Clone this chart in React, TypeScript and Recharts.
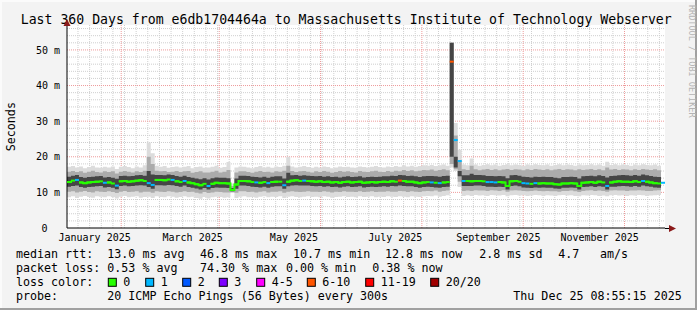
import React from 'react';
import { ComposedChart, Area, Line, Scatter, XAxis, YAxis, ReferenceLine, CartesianGrid } from 'recharts';

// one sample every 2.4 days, 150 samples over the 360 day window
const STEP_DAYS = 2.4;

// median rtt in ms
const median = [
  12.9, 13.3, 13.5, 12.8, 12.6, 12.8, 12.9, 13.0, 13.1, 12.7,
  12.8, 12.5, 11.9, 13.1, 13.2, 13.0, 13.1, 13.3, 13.4, 13.2,
  12.6, 12.1, 13.5, 13.5, 13.4, 13.6, 13.5, 13.1, 12.9, 13.2,
  12.8, 12.6, 12.3, 12.0, 12.4, 11.8, 12.4, 12.7, 12.6, 12.6,
  12.5, 10.7, 12.2, 13.2, 13.2, 13.1, 12.9, 12.8, 12.7, 12.9,
  12.6, 12.9, 13.0, 13.0, 12.0, 13.0, 13.3, 13.4, 13.2, 13.3,
  13.2, 13.1, 13.0, 13.1, 12.9, 13.0, 12.8, 12.9, 12.7, 12.9,
  13.0, 12.8, 12.9, 13.0, 12.7, 12.8, 12.9, 12.8, 12.9, 13.0,
  12.9, 13.1, 13.0, 13.3, 13.2, 13.0, 13.0, 12.8, 12.6, 12.8,
  12.9, 12.8, 12.7, 12.6, 12.8, 12.9, 46.7, 24.7, 18.8, 13.2,
  13.2, 13.1, 13.2, 13.2, 13.1, 12.9, 12.9, 12.8, 12.9, 12.8,
  11.8, 13.1, 13.2, 13.0, 12.6, 12.5, 12.4, 12.6, 12.5, 12.6,
  12.5, 12.5, 12.3, 12.2, 12.5, 12.5, 12.6, 12.5, 11.8, 12.7,
  12.8, 12.9, 12.7, 13.0, 12.8, 11.8, 12.8, 13.0, 13.1, 13.0,
  13.0, 12.9, 13.1, 12.9, 13.2, 13.0, 12.8, 12.6, 12.5, 12.7,
];

// lost pings (of 20) per sample
const lostPings = [
  0, 0, 1, 0, 0, 0, 0, 0, 0, 1,
  0, 0, 1, 0, 0, 0, 0, 0, 0, 0,
  1, 1, 0, 0, 0, 0, 1, 0, 0, 1,
  0, 0, 0, 0, 0, 1, 0, 0, 0, 0,
  0, 0, 0, 0, 0, 0, 0, 1, 0, 0,
  1, 0, 0, 0, 1, 0, 0, 0, 0, 1,
  0, 0, 0, 0, 0, 0, 0, 0, 0, 0,
  0, 0, 0, 0, 0, 0, 0, 0, 0, 0,
  0, 0, 0, 8, 0, 0, 0, 0, 0, 0,
  0, 1, 0, 1, 0, 0, 8, 1, 1, 1,
  0, 0, 0, 0, 0, 1, 1, 1, 0, 0,
  0, 0, 0, 0, 1, 1, 0, 1, 0, 0,
  0, 0, 0, 0, 0, 0, 0, 0, 0, 0,
  0, 0, 0, 0, 0, 1, 0, 0, 0, 0,
  0, 0, 0, 0, 1, 0, 0, 0, 0, 1,
];

// smoke: outer band (min / max ping)
const lo1 = [
  8.6, 8.9, 8.4, 8.8, 9.0, 8.7, 8.5, 8.9, 8.8, 8.6,
  8.9, 8.7, 8.3, 8.8, 9.0, 8.6, 8.8, 8.9, 8.5, 8.7,
  8.8, 8.4, 8.9, 8.7, 8.6, 8.9, 8.8, 8.5, 8.7, 8.9,
  8.6, 8.8, 8.4, 8.2, 8.7, 8.3, 8.6, 8.8, 8.7, 8.5,
  8.6, 9.8, 8.4, 8.8, 8.9, 8.6, 8.7, 8.5, 8.8, 8.9,
  8.6, 8.8, 8.7, 8.9, 8.4, 8.8, 8.9, 8.7, 8.6, 8.8,
  8.9, 8.7, 8.8, 8.6, 8.9, 8.8, 8.5, 8.7, 8.8, 8.9,
  8.7, 8.8, 8.6, 8.9, 8.7, 8.8, 8.9, 8.6, 8.8, 8.7,
  8.9, 8.8, 8.7, 8.9, 8.8, 8.6, 8.9, 8.8, 8.7, 8.9,
  9.0, 8.9, 9.1, 8.8, 9.0, 9.2, 17.0, 16.0, 11.5, 9.0,
  9.2, 9.0, 9.3, 9.1, 9.2, 9.0, 9.3, 9.2, 9.1, 9.3,
  8.9, 9.2, 9.3, 9.1, 9.2, 9.0, 9.1, 9.3, 9.2, 9.0,
  9.2, 9.1, 9.0, 9.2, 9.3, 9.1, 9.2, 9.0, 8.9, 9.2,
  9.1, 9.3, 9.2, 9.0, 9.1, 8.9, 9.2, 9.3, 9.1, 9.2,
  9.0, 9.2, 9.1, 9.3, 9.2, 9.0, 9.1, 9.2, 9.3, 9.1,
];
const hi1 = [
  17.2, 17.4, 17.0, 17.3, 16.8, 17.1, 17.5, 17.0, 16.9, 17.2,
  17.0, 17.3, 16.6, 17.2, 17.4, 17.1, 16.8, 17.3, 17.0, 17.6,
  24.0, 21.0, 17.5, 17.2, 17.4, 16.9, 17.1, 17.3, 17.0, 17.2,
  17.4, 16.8, 17.1, 17.3, 16.9, 17.0, 17.2, 17.5, 16.9, 17.1,
  18.5, 12.5, 17.0, 17.3, 17.2, 17.0, 16.8, 17.1, 17.4, 17.0,
  17.2, 16.9, 17.3, 17.1, 17.5, 20.0, 17.3, 17.0, 17.2, 17.4,
  17.1, 16.9, 17.2, 17.0, 17.3, 17.1, 16.8, 17.0, 17.3, 17.1,
  17.2, 17.0, 16.9, 17.3, 17.1, 17.0, 17.2, 17.4, 17.1, 17.0,
  17.3, 17.1, 17.4, 17.2, 17.6, 17.3, 17.5, 17.2, 17.4, 17.6,
  17.5, 17.7, 17.4, 17.6, 17.8, 17.5, 52.0, 29.5, 22.0, 17.8,
  17.6, 19.5, 17.8, 17.5, 17.7, 17.9, 17.6, 17.8, 17.5, 17.7,
  17.9, 17.6, 17.8, 17.7, 17.5, 17.8, 17.6, 17.9, 17.7, 17.6,
  17.8, 17.5, 17.7, 17.9, 17.6, 17.8, 17.7, 17.5, 17.8, 17.6,
  17.7, 17.9, 17.6, 17.8, 17.5, 18.6, 17.7, 17.9, 17.6, 17.8,
  17.7, 17.5, 17.8, 17.6, 17.9, 17.7, 17.6, 17.8, 17.5, 17.7,
];

// smoke: middle band
const lo2 = [
  10.2, 10.3, 10.0, 10.2, 10.4, 10.1, 10.0, 10.3, 10.2, 10.1,
  10.3, 10.1, 9.8, 10.2, 10.4, 10.1, 10.2, 10.3, 10.0, 10.2,
  10.2, 9.9, 10.3, 10.2, 10.1, 10.3, 10.2, 10.0, 10.1, 10.3,
  10.1, 10.2, 9.9, 9.7, 10.1, 9.8, 10.0, 10.2, 10.1, 10.0,
  10.0, 10.1, 9.9, 10.3, 10.3, 10.1, 10.2, 10.0, 10.2, 10.3,
  10.0, 10.2, 10.2, 10.3, 9.9, 10.2, 10.3, 10.2, 10.1, 10.2,
  10.3, 10.2, 10.2, 10.1, 10.3, 10.2, 10.0, 10.2, 10.1, 10.3,
  10.2, 10.2, 10.1, 10.3, 10.1, 10.2, 10.3, 10.1, 10.2, 10.2,
  10.3, 10.2, 10.2, 10.4, 10.3, 10.1, 10.3, 10.2, 10.1, 10.3,
  10.4, 10.3, 10.5, 10.2, 10.4, 10.5, 18.0, 16.5, 13.0, 10.4,
  10.5, 10.4, 10.6, 10.5, 10.5, 10.4, 10.6, 10.5, 10.4, 10.6,
  10.2, 10.5, 10.6, 10.5, 10.4, 10.3, 10.4, 10.5, 10.4, 10.3,
  10.4, 10.3, 10.3, 10.2, 10.4, 10.4, 10.5, 10.3, 10.1, 10.4,
  10.5, 10.6, 10.4, 10.5, 10.4, 10.2, 10.5, 10.6, 10.5, 10.5,
  10.4, 10.5, 10.5, 10.6, 10.5, 10.4, 10.4, 10.5, 10.6, 10.4,
];
const hi2 = [
  15.8, 16.0, 15.7, 15.9, 15.5, 15.8, 16.1, 15.7, 15.6, 15.9,
  15.7, 15.9, 15.3, 15.8, 16.0, 15.8, 15.6, 15.9, 15.7, 16.1,
  20.0, 18.0, 16.1, 15.9, 16.0, 15.7, 15.8, 16.0, 15.7, 15.9,
  16.0, 15.5, 15.7, 15.9, 15.6, 15.6, 15.8, 16.1, 15.6, 15.8,
  16.3, 11.8, 15.6, 15.9, 15.9, 15.7, 15.5, 15.8, 16.0, 15.7,
  15.8, 15.6, 15.9, 15.8, 16.1, 17.5, 16.0, 15.7, 15.9, 16.0,
  15.8, 15.6, 15.9, 15.7, 16.0, 15.8, 15.5, 15.7, 16.0, 15.8,
  15.9, 15.7, 15.6, 16.0, 15.8, 15.7, 15.9, 16.1, 15.8, 15.7,
  16.0, 15.8, 16.1, 15.9, 16.3, 16.0, 16.2, 15.9, 16.1, 16.3,
  16.2, 16.4, 16.1, 16.3, 16.5, 16.2, 52.0, 26.0, 19.0, 16.5,
  16.3, 17.5, 16.5, 16.2, 16.4, 16.6, 16.3, 16.5, 16.2, 16.4,
  16.6, 16.3, 16.5, 16.4, 16.2, 16.5, 16.3, 16.6, 16.4, 16.3,
  16.5, 16.2, 16.4, 16.6, 16.3, 16.5, 16.4, 16.2, 16.5, 16.3,
  16.4, 16.6, 16.3, 16.5, 16.2, 17.0, 16.4, 16.6, 16.3, 16.5,
  16.4, 16.2, 16.5, 16.3, 16.6, 16.4, 16.3, 16.5, 16.2, 16.4,
];

// smoke: inner band
const lo3 = [
  11.6, 11.8, 11.9, 11.5, 11.3, 11.5, 11.6, 11.7, 11.8, 11.4,
  11.5, 11.3, 10.9, 11.8, 11.9, 11.7, 11.8, 11.9, 12.0, 11.9,
  11.5, 11.0, 12.0, 12.0, 11.9, 12.1, 12.0, 11.8, 11.6, 11.9,
  11.5, 11.3, 11.1, 10.8, 11.2, 10.8, 11.2, 11.4, 11.3, 11.3,
  11.2, 10.3, 11.0, 11.9, 11.9, 11.8, 11.6, 11.5, 11.4, 11.6,
  11.3, 11.6, 11.7, 11.7, 11.0, 11.7, 11.9, 12.0, 11.9, 11.9,
  11.9, 11.8, 11.7, 11.8, 11.6, 11.7, 11.5, 11.6, 11.4, 11.6,
  11.7, 11.5, 11.6, 11.7, 11.4, 11.5, 11.6, 11.5, 11.6, 11.7,
  11.6, 11.8, 11.7, 11.9, 11.8, 11.7, 11.7, 11.5, 11.3, 11.5,
  11.6, 11.5, 11.4, 11.3, 11.5, 11.6, 20.0, 17.0, 14.5, 11.8,
  11.8, 11.8, 11.9, 11.9, 11.8, 11.6, 11.6, 11.5, 11.6, 11.5,
  10.8, 11.8, 11.9, 11.7, 11.4, 11.3, 11.2, 11.4, 11.3, 11.4,
  11.3, 11.3, 11.1, 11.0, 11.3, 11.3, 11.4, 11.3, 10.8, 11.5,
  11.6, 11.7, 11.5, 11.7, 11.6, 10.8, 11.6, 11.6, 11.7, 11.8,
  11.7, 11.6, 11.8, 11.6, 11.9, 11.7, 11.6, 11.4, 11.3, 11.5,
];
const hi3 = [
  14.4, 14.7, 14.9, 14.3, 14.1, 14.3, 14.4, 14.5, 14.6, 14.2,
  14.3, 14.1, 13.8, 14.6, 14.7, 14.5, 14.6, 14.8, 14.9, 14.7,
  16.0, 15.0, 14.9, 14.9, 14.8, 15.0, 14.9, 14.6, 14.4, 14.7,
  14.3, 14.1, 13.9, 13.7, 14.0, 13.6, 14.0, 14.2, 14.1, 14.1,
  14.0, 11.2, 13.9, 14.7, 14.7, 14.6, 14.4, 14.3, 14.2, 14.4,
  14.1, 14.4, 14.5, 14.5, 13.9, 15.5, 14.8, 14.9, 14.7, 14.8,
  14.7, 14.6, 14.5, 14.6, 14.4, 14.5, 14.3, 14.4, 14.2, 14.4,
  14.5, 14.3, 14.4, 14.5, 14.2, 14.3, 14.4, 14.3, 14.4, 14.5,
  14.5, 14.7, 14.6, 14.9, 14.8, 14.6, 14.7, 14.5, 14.3, 14.5,
  14.6, 14.6, 14.5, 14.4, 14.6, 14.7, 52.0, 20.0, 16.0, 14.8,
  14.8, 15.2, 14.9, 14.9, 14.8, 14.6, 14.6, 14.5, 14.6, 14.5,
  14.0, 14.8, 14.9, 14.7, 14.4, 14.3, 14.2, 14.4, 14.3, 14.4,
  14.3, 14.3, 14.1, 14.0, 14.3, 14.3, 14.4, 14.3, 13.9, 14.5,
  14.6, 14.7, 14.5, 14.8, 14.6, 14.2, 14.6, 14.7, 14.8, 14.9,
  14.8, 14.7, 14.9, 14.7, 15.0, 14.8, 14.6, 14.4, 14.3, 14.5,
];

// x axis: days since Dec 30 2024 08:55
const monthLabels = ['January 2025', 'March 2025', 'May 2025', 'July 2025', 'September 2025', 'November 2025'];
const monthLabelDays = [16.63, 75.63, 136.63, 197.63, 259.63, 320.63];
const majorGridDays = [32.63, 91.63, 152.63, 213.63, 274.63, 335.63];
const FIRST_MONDAY = 6.63;
const weekDays: number[] = [];
for (let d = FIRST_MONDAY; d < 360; d += 7) weekDays.push(d);

const yTicks = [0, 10, 20, 30, 40, 50];
const yMinor = [2, 4, 6, 8, 12, 14, 16, 18, 22, 24, 26, 28, 32, 34, 36, 38, 42, 44, 46, 48, 52, 54, 56];

const lossLabels = ['0', '1', '2', '3', '4-5', '6-10', '11-19', '20/20'];
const lossUpper = [0, 1, 2, 3, 5, 10, 19, 20];
const lossColors = ['#26ff00', '#00b8ff', '#0059ff', '#7e00ff', '#ff00ff', '#ff5500', '#ff0000', '#a10000'];

const lossColor = (n: number) => {
  const k = lossUpper.findIndex(u => n <= u);
  return lossColors[k < 0 ? lossColors.length - 1 : k];
};

const data = median.map((m, i) => ({
  day: i * STEP_DAYS,
  median: m,
  // green connector line only between loss-free samples
  clean: lostPings[i] === 0 ? m : null,
  lost: lostPings[i],
  outer: [lo1[i], hi1[i]],
  mid: [lo2[i], hi2[i]],
  core: [lo3[i], hi3[i]],
}));

const FONT = 'DejaVu Sans Mono';
const W = 697;
const H = 310;
const MARGIN = { top: 25, right: 32, bottom: 62, left: 12 };
const X_DOMAIN = [0, 360];
const Y_DOMAIN = [0, 57];

const MonthTick = (props: any) => {
  const { x, y, payload } = props;
  const i = monthLabelDays.indexOf(payload.value);
  return (
    <text x={x} y={y + 12.5} textAnchor="middle" fontFamily={FONT} fontSize={10} fill="#000">
      {monthLabels[i]}
    </text>
  );
};

const MsTick = (props: any) => {
  const { x, y, payload } = props;
  const v = payload.value;
  return (
    <text x={v === 0 ? x - 12.5 : x} y={y + 3.6} textAnchor="end" fontFamily={FONT} fontSize={10} fill="#000">
      {v === 0 ? '0' : `${v} m`}
    </text>
  );
};

// one pixel-column step of the median, coloured by packet loss
const MedianStep = (props: any) => {
  const { cx, cy, payload } = props;
  return <rect x={cx} y={cy - 1} width={4} height={2} fill={lossColor(payload.lost)} />;
};

const legendRows = [
  { y: 258.3, items: [[16, 'median rtt:'], [107.3, '13.0 ms avg'], [200, '46.8 ms max'], [293, '10.7 ms min'], [385, '12.8 ms now'], [479.3, '2.8 ms sd'], [558.3, '4.7'], [600, 'am/s']] },
  { y: 272.3, items: [[16, 'packet loss:'], [107.3, '0.53 % avg'], [200, '74.30 % max'], [286, '0.00 % min'], [372.3, '0.38 % now']] },
  { y: 300.3, items: [[16, 'probe:'], [107.3, '20 ICMP Echo Pings (56 Bytes) every 300s'], [513.3, 'Thu Dec 25 08:55:15 2025']] },
];
const lossBoxX = [108.3, 145.7, 182.7, 219.3, 256.7, 307.3, 365.7, 430.7];

// grid layer: drawn underneath the smoke, carries the small axis ticks too
const GridLayer = () => (
  <ComposedChart width={W} height={H} data={data} margin={MARGIN}>
    <CartesianGrid fill="#ffffff" stroke="none" horizontal={false} vertical={false} />
    <XAxis xAxisId="wk" type="number" dataKey="day" domain={X_DOMAIN} ticks={weekDays} interval={0} tick={false} tickSize={2} tickLine={{ stroke: '#909090' }} axisLine={false} height={0} mirror allowDataOverflow />
    <XAxis xAxisId="mo" type="number" dataKey="day" domain={X_DOMAIN} ticks={majorGridDays} interval={0} tick={false} tickSize={3} tickLine={{ stroke: '#d06060' }} axisLine={false} height={20} allowDataOverflow />
    <YAxis type="number" domain={Y_DOMAIN} ticks={yTicks} tick={false} tickLine={false} axisLine={false} width={55} allowDataOverflow />
    {weekDays.map(d => (
      <ReferenceLine key={'w' + d} xAxisId="wk" x={d} stroke="#cfcfcf" strokeDasharray="1 1" />
    ))}
    {yMinor.map(v => (
      <ReferenceLine key={'m' + v} xAxisId="wk" y={v} stroke="#cfcfcf" strokeDasharray="1 1" />
    ))}
    {majorGridDays.map(d => (
      <ReferenceLine key={'M' + d} xAxisId="wk" x={d} stroke="#ee9a9a" strokeDasharray="1 1" />
    ))}
    {yTicks.filter(v => v > 0).map(v => (
      <ReferenceLine key={'Y' + v} xAxisId="wk" y={v} stroke="#ee9a9a" strokeDasharray="1 1" />
    ))}
  </ComposedChart>
);

export default function App() {
  return (
    <div style={{ position: 'absolute', left: 0, top: 0, width: W, height: H, background: '#f3f3f3', boxShadow: 'inset -2px -2px 0 #a0a0a0, inset 2px 2px 0 #fbfbfb', overflow: 'hidden' }}>
      <div style={{ position: 'absolute', left: 0, top: 0 }}>
        <GridLayer />
      </div>
      <div style={{ position: 'absolute', left: 0, top: 0 }}>
        <ComposedChart width={W} height={H} data={data} margin={MARGIN}>
          <XAxis type="number" dataKey="day" domain={X_DOMAIN} ticks={monthLabelDays} interval={0} tick={<MonthTick />} tickSize={0} tickMargin={0} tickLine={false} axisLine={{ stroke: '#000' }} height={20} allowDataOverflow />
          <YAxis type="number" domain={Y_DOMAIN} ticks={yTicks} interval={0} tick={<MsTick />} tickSize={0} tickMargin={7} tickLine={false} axisLine={{ stroke: '#000' }} width={55} allowDataOverflow />
          <Area dataKey="outer" type="stepAfter" fill="#dcdcdc" fillOpacity={1} stroke="none" isAnimationActive={false} />
          <Area dataKey="mid" type="stepAfter" fill="#ababab" fillOpacity={1} stroke="none" isAnimationActive={false} />
          <Area dataKey="core" type="stepAfter" fill="#454545" fillOpacity={1} stroke="none" isAnimationActive={false} />
          <Line dataKey="clean" type="stepAfter" stroke={lossColors[0]} strokeWidth={2} dot={false} activeDot={false} connectNulls={false} isAnimationActive={false} />
          <Scatter dataKey="median" shape={<MedianStep />} isAnimationActive={false} />
        </ComposedChart>
      </div>

      <svg width={W} height={H} style={{ position: 'absolute', left: 0, top: 0, pointerEvents: 'none' }}>
        <text x={20.7} y={24} fontFamily={FONT} fontSize={13.2} fill="#000">
          Last 360 Days from e6db1704464a to Massachusetts Institute of Technology Webserver
        </text>
        <text transform="translate(689,5) rotate(90)" fontFamily={FONT} fontSize={8.5} fill="#b4b4b4">
          RRDTOOL / TOBI OETIKER
        </text>
        <text transform="translate(15,126.7) rotate(-90)" textAnchor="middle" fontFamily={FONT} fontSize={11.7} fill="#000">
          Seconds
        </text>
        <line x1={67} y1={21} x2={67} y2={25} stroke="#000" />
        <polygon points="63.5,26 70.5,26 67,19" fill="#8b1a1a" />
        <line x1={665} y1={228.5} x2={670} y2={228.5} stroke="#000" />
        <polygon points="669,225 669,232 676,228.5" fill="#8b1a1a" />
        {legendRows.map(row =>
          row.items.map(([x, t]) => (
            <text key={row.y + String(t)} x={x as number} y={row.y} fontFamily={FONT} fontSize={11.66} fill="#000">
              {t}
            </text>
          ))
        )}
        <text x={16} y={286.3} fontFamily={FONT} fontSize={11.66} fill="#000">loss color:</text>
        {lossLabels.map((l, i) => (
          <g key={l}>
            <rect x={lossBoxX[i]} y={278.3} width={8} height={8} fill={lossColors[i]} stroke="#000" strokeWidth={1} />
            <text x={lossBoxX[i] + 15} y={286.3} fontFamily={FONT} fontSize={11.66} fill="#000">{l}</text>
          </g>
        ))}
      </svg>
    </div>
  );
}
